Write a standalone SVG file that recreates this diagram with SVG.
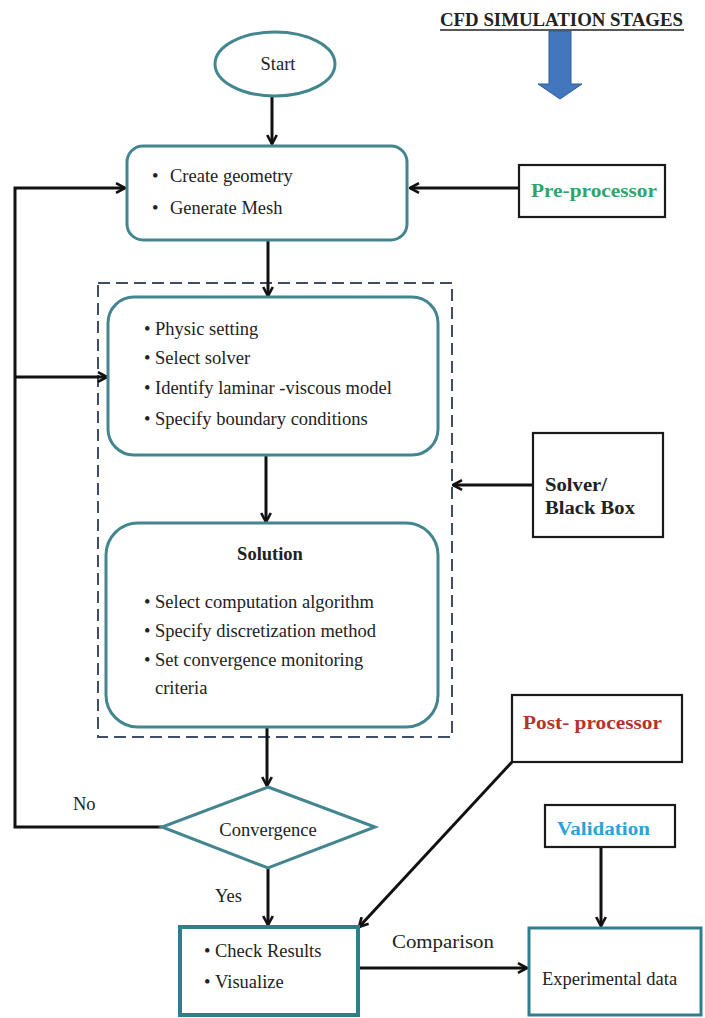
<svg xmlns="http://www.w3.org/2000/svg" width="705" height="1018" viewBox="0 0 705 1018">
  <defs>
    <marker id="arr" viewBox="0 0 10 10" refX="9" refY="5" markerWidth="12" markerHeight="12" markerUnits="userSpaceOnUse" orient="auto">
      <path d="M1.5,1 L9,5 L1.5,9" fill="none" stroke="#111" stroke-width="2.2" stroke-linejoin="miter"/>
    </marker>
    <style>
      text { font-family: "Liberation Serif", "Times New Roman", serif; fill: #222; font-size: 18.5px; }
      .b { font-weight: bold; }
      .node { fill: #fff; stroke: #43868f; stroke-width: 3; }
      .box { fill: #fff; stroke: #1a1a1a; stroke-width: 2.2; }
      .conn { fill: none; stroke: #111; stroke-width: 3; }
      .dash { fill: none; stroke: #3e4e66; stroke-width: 2; stroke-dasharray: 12 6; }
    </style>
  </defs>
  <rect width="705" height="1018" fill="#fff"/>

  <g id="title">
    <text x="440" y="26" class="b" textLength="243" lengthAdjust="spacingAndGlyphs">CFD SIMULATION STAGES</text>
    <line x1="440" y1="30" x2="684" y2="30" stroke="#222" stroke-width="1.5"/>
    <polygon points="549,31 571,31 571,84 582,84 560,99 538,84 549,84" fill="#4277bd" stroke="#2d5c98" stroke-width="1"/>
  </g>

  <g id="solver-group">
    <rect x="98" y="283" width="354" height="454" class="dash"/>
  </g>

  <g id="connectors">
    <line x1="272" y1="97" x2="272" y2="144" class="conn" marker-end="url(#arr)"/>
    <line x1="519" y1="188" x2="410" y2="188" class="conn" marker-end="url(#arr)"/>
    <polyline points="162,827 15,827 15,188 125,188" class="conn" marker-end="url(#arr)"/>
    <line x1="15" y1="377" x2="107" y2="377" class="conn" marker-end="url(#arr)"/>
    <line x1="268" y1="240" x2="268" y2="296" class="conn" marker-end="url(#arr)"/>
    <line x1="266" y1="455" x2="266" y2="522" class="conn" marker-end="url(#arr)"/>
    <line x1="533" y1="485" x2="453" y2="485" class="conn" marker-end="url(#arr)"/>
    <line x1="267" y1="727" x2="267" y2="786" class="conn" marker-end="url(#arr)"/>
    <line x1="268" y1="868" x2="268" y2="925" class="conn" marker-end="url(#arr)"/>
    <line x1="512" y1="762" x2="359" y2="927" class="conn" marker-end="url(#arr)"/>
    <line x1="601" y1="847" x2="601" y2="926" class="conn" marker-end="url(#arr)"/>
    <line x1="358" y1="968" x2="527" y2="968" class="conn" marker-end="url(#arr)"/>
    <text x="73" y="810" font-size="20">No</text>
    <text x="215" y="902" font-size="20">Yes</text>
    <text x="392" y="948" font-size="20" textLength="102" lengthAdjust="spacingAndGlyphs">Comparison</text>
  </g>

  <g id="start">
    <ellipse cx="275" cy="64" rx="60" ry="32" class="node"/>
    <text x="278" y="70" text-anchor="middle">Start</text>
  </g>

  <g id="preprocess-box">
    <rect x="127" y="146" width="280" height="94" rx="16" class="node"/>
    <text x="152" y="182"><tspan>•</tspan><tspan x="170">Create geometry</tspan></text>
    <text x="152" y="214"><tspan>•</tspan><tspan x="170">Generate Mesh</tspan></text>
  </g>

  <g id="pre-processor">
    <rect x="519" y="165" width="146" height="52" class="box"/>
    <text x="531" y="197" class="b" font-size="21" textLength="126" lengthAdjust="spacingAndGlyphs" style="fill:#2ea56c">Pre-processor</text>
  </g>

  <g id="physics-box">
    <rect x="108" y="297" width="330" height="158" rx="26" class="node"/>
    <text x="144" y="335"><tspan>•</tspan><tspan x="155">Physic setting</tspan></text>
    <text x="144" y="364"><tspan>•</tspan><tspan x="155">Select solver</tspan></text>
    <text x="144" y="394"><tspan>•</tspan><tspan x="155">Identify laminar -viscous model</tspan></text>
    <text x="144" y="425"><tspan>•</tspan><tspan x="155">Specify boundary conditions</tspan></text>
  </g>

  <g id="solution-box">
    <rect x="106" y="523" width="332" height="204" rx="32" class="node"/>
    <text x="270" y="560" class="b" text-anchor="middle">Solution</text>
    <text x="144" y="608"><tspan>•</tspan><tspan x="155">Select computation algorithm</tspan></text>
    <text x="144" y="637"><tspan>•</tspan><tspan x="155">Specify discretization method</tspan></text>
    <text x="144" y="666"><tspan>•</tspan><tspan x="155">Set convergence monitoring</tspan></text>
    <text x="155" y="694">criteria</text>
  </g>

  <g id="solver-blackbox">
    <rect x="533" y="433" width="130" height="104" class="box"/>
    <text x="545" y="491" class="b" font-size="20" textLength="62" lengthAdjust="spacingAndGlyphs">Solver/</text>
    <text x="545" y="514" class="b" font-size="20" textLength="90" lengthAdjust="spacingAndGlyphs">Black Box</text>
  </g>

  <g id="convergence">
    <polygon points="268,787 375,827 268,868 162,827" class="node"/>
    <text x="268" y="836" text-anchor="middle">Convergence</text>
  </g>

  <g id="post-processor">
    <rect x="512" y="695" width="170" height="67" class="box"/>
    <text x="523" y="729" class="b" font-size="21" textLength="139" lengthAdjust="spacingAndGlyphs" style="fill:#b5332f">Post- processor</text>
  </g>

  <g id="validation">
    <rect x="545" y="805" width="130" height="42" class="box"/>
    <text x="557" y="835" class="b" font-size="21" textLength="93" lengthAdjust="spacingAndGlyphs" style="fill:#2aa3d9">Validation</text>
  </g>

  <g id="check-results">
    <rect x="180" y="927" width="178" height="88" class="node" style="stroke:#2f7e90;stroke-width:4"/>
    <text x="204" y="957"><tspan>•</tspan><tspan x="215">Check Results</tspan></text>
    <text x="204" y="988"><tspan>•</tspan><tspan x="215">Visualize</tspan></text>
  </g>

  <g id="experimental-data">
    <rect x="529" y="928" width="172" height="87" class="node" style="stroke:#2f7e90;stroke-width:3"/>
    <text x="542" y="985">Experimental data</text>
  </g>
</svg>
